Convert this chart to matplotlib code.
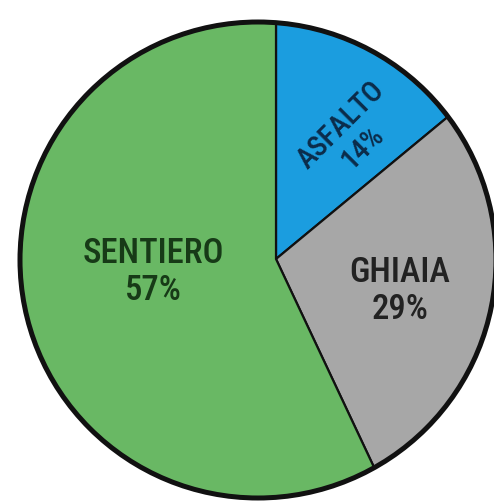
import matplotlib
matplotlib.use("Agg")
from matplotlib import pyplot as plt
from matplotlib.patches import Circle

# data
labels = ["ASFALTO", "GHIAIA", "SENTIERO"]
values = [14, 29, 57]
colors = ["#1b9ddf", "#a7a7a7", "#69b864"]
text_colors = ["#0b2c4a", "#222222", "#173a17"]

W, H = 494, 502
fig = plt.figure(figsize=(W / 100, H / 100), dpi=100)
ax = fig.add_axes([0, 0, 1, 1])

# outline circle and slice apex (pixel coords, y up)
cx, cy, r = 258, 241, 238
apex = (276, 242)

wedges, _ = ax.pie(values, colors=colors, startangle=90, counterclock=False,
                   center=apex, radius=320, frame=True,
                   wedgeprops=dict(edgecolor="#111111", linewidth=1.6))
ax.set_xlim(0, W)
ax.set_ylim(0, H)
ax.set_aspect("auto")
ax.axis("off")

# keep the slices inside the outline circle
clip = Circle((cx, cy), r, transform=ax.transData)
for w in wedges:
    w.set_clip_on(True)
    w.set_clip_path(clip)

ax.add_patch(Circle((cx, cy), r, facecolor="none", edgecolor="#111111", linewidth=3.6))

fam = ["Roboto Condensed", "Liberation Sans Narrow", "Lato"]
# label anchors (pixel coords from top-left), rotation, size
label_pos = [(352, 136, 45, 21), (400, 291, 0, 25), (153, 272, 0, 25)]
for lab, v, tc, (px, py, rot, fs) in zip(labels, values, text_colors, label_pos):
    ax.text(px, H - py, f"{lab}\n{v}%", ha="center", va="center", rotation=rot,
            rotation_mode="anchor", fontsize=fs,
            family=fam, weight="medium", color=tc, linespacing=1.15)

fig.savefig("out.png", dpi=100)
